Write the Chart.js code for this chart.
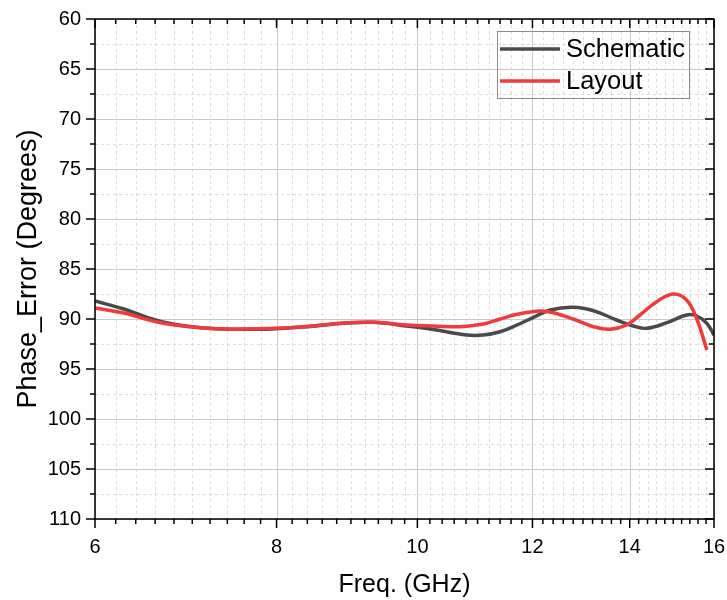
<!DOCTYPE html>
<html>
<head>
<meta charset="utf-8">
<title>Phase Error vs Frequency</title>
<script src="https://cdn.jsdelivr.net/npm/chart.js@4.4.0/dist/chart.umd.min.js"></script>
<style>
  html, body { margin: 0; padding: 0; background: #fff; }
  #wrap { width: 727px; height: 600px; }
</style>
</head>
<body>
<div id="wrap"><canvas id="phaseChart" width="727" height="600"></canvas></div>
<script>
// values (GHz, degrees)
const freqSchematic = [6.0, 6.28, 6.62, 6.97, 7.35, 7.75, 8.0, 8.39, 8.85, 9.33, 9.83, 10.26, 10.81, 11.1, 11.4, 11.71, 12.02, 12.34, 12.8, 13.22, 13.71, 14.08, 14.38, 14.85, 15.32, 15.57, 15.82, 16.0];
const phaseSchematic = [88.2, 89.0, 90.15, 90.75, 91.0, 91.03, 90.97, 90.77, 90.45, 90.33, 90.7, 91.05, 91.6, 91.6, 91.27, 90.6, 89.83, 89.1, 88.83, 89.17, 90.1, 90.7, 90.93, 90.37, 89.6, 89.7, 90.43, 91.6];

const freqLayout = [6.0, 6.28, 6.62, 6.97, 7.35, 7.75, 8.0, 8.39, 8.85, 9.33, 9.83, 10.26, 10.7, 11.1, 11.4, 11.71, 12.15, 12.41, 12.8, 13.22, 13.57, 13.93, 14.23, 14.61, 15.0, 15.32, 15.57, 15.82];
const phaseLayout = [88.9, 89.4, 90.3, 90.77, 91.0, 90.98, 90.93, 90.75, 90.42, 90.33, 90.6, 90.7, 90.77, 90.5, 90.0, 89.53, 89.2, 89.37, 90.0, 90.77, 91.03, 90.6, 89.6, 88.27, 87.5, 88.1, 90.0, 93.1];

const seriesLabels = ["Schematic", "Layout"];
const xTickValues = [6, 8, 10, 12, 14, 16];
const yTickValues = [60, 65, 70, 75, 80, 85, 90, 95, 100, 105, 110];

const FONT = "'Liberation Sans', Arial, sans-serif";

// minor ticks: 0.2 GHz on x, half steps on y
const xMinor = [];
for (let i = 0; i < xTickValues.length - 1; i++) {
  for (let k = 1; k < 10; k++) xMinor.push(xTickValues[i] + k * 0.2);
}
const yMinor = [];
for (let i = 0; i < yTickValues.length - 1; i++) {
  yMinor.push((yTickValues[i] + yTickValues[i + 1]) / 2);
}

function toPoints(xs, ys) {
  return xs.map((x, i) => ({ x: x, y: ys[i] }));
}

function seg(ctx, x1, y1, x2, y2) {
  ctx.beginPath();
  ctx.moveTo(x1, y1);
  ctx.lineTo(x2, y2);
  ctx.stroke();
}

const frameGrid = {
  id: "frameGrid",
  beforeDatasetsDraw(chart) {
    const { ctx, chartArea: a, scales } = chart;
    const x = scales.x, y = scales.y;
    ctx.save();
    ctx.lineWidth = 1;
    ctx.strokeStyle = "#dcdcdc";
    ctx.setLineDash([3, 3]);
    xMinor.forEach((v) => {
      const px = Math.round(x.getPixelForValue(v)) + 0.5;
      seg(ctx, px, a.top, px, a.bottom);
    });
    yMinor.forEach((v) => {
      const py = Math.round(y.getPixelForValue(v)) + 0.5;
      seg(ctx, a.left, py, a.right, py);
    });
    ctx.setLineDash([]);
    ctx.strokeStyle = "#cbcbcb";
    xTickValues.forEach((v) => {
      const px = Math.round(x.getPixelForValue(v)) + 0.5;
      seg(ctx, px, a.top, px, a.bottom);
    });
    yTickValues.forEach((v) => {
      const py = Math.round(y.getPixelForValue(v)) + 0.5;
      seg(ctx, a.left, py, a.right, py);
    });
    ctx.restore();
  },
  afterDatasetsDraw(chart) {
    const { ctx, chartArea: a, scales } = chart;
    const x = scales.x, y = scales.y;
    ctx.save();
    ctx.strokeStyle = "#000";
    ctx.lineWidth = 1.5;
    ctx.strokeRect(a.left, a.top, a.right - a.left, a.bottom - a.top);
    // bottom (out) and top (in)
    xTickValues.forEach((v) => {
      const px = x.getPixelForValue(v);
      seg(ctx, px, a.bottom, px, a.bottom + 9);
      seg(ctx, px, a.top, px, a.top + 9);
    });
    xMinor.forEach((v) => {
      const px = x.getPixelForValue(v);
      seg(ctx, px, a.bottom, px, a.bottom + 5);
      seg(ctx, px, a.top, px, a.top + 5);
    });
    // left (out) and right (in)
    yTickValues.forEach((v) => {
      const py = y.getPixelForValue(v);
      seg(ctx, a.left - 9, py, a.left, py);
      seg(ctx, a.right - 9, py, a.right, py);
    });
    yMinor.forEach((v) => {
      const py = y.getPixelForValue(v);
      seg(ctx, a.left - 5, py, a.left, py);
      seg(ctx, a.right - 5, py, a.right, py);
    });
    ctx.restore();
  },
  afterDraw(chart) {
    // legend box in the top-right corner of the plot
    const { ctx, chartArea: a } = chart;
    const boxW = 192, boxH = 67;
    const bx = a.right - 25 - boxW, by = a.top + 12;
    ctx.save();
    ctx.strokeStyle = "#8c8c8c";
    ctx.lineWidth = 1;
    ctx.strokeRect(bx + 0.5, by + 0.5, boxW, boxH);
    ctx.font = "25.5px " + FONT;
    ctx.textBaseline = "middle";
    ctx.fillStyle = "#000";
    chart.data.datasets.forEach((ds, i) => {
      const ly = by + 18 + i * 32;
      ctx.strokeStyle = ds.borderColor;
      ctx.lineWidth = 3.5;
      seg(ctx, bx + 3, ly, bx + 63, ly);
      ctx.fillText(ds.label, bx + 69, ly + 1);
    });
    ctx.restore();
  }
};

const ctx = document.getElementById("phaseChart").getContext("2d");

new Chart(ctx, {
  type: "line",
  data: {
    datasets: [
      {
        label: seriesLabels[0],
        data: toPoints(freqSchematic, phaseSchematic),
        borderColor: "#4a4a4a",
        borderWidth: 3.5,
        pointRadius: 0,
        tension: 0.4,
        order: 2,
      },
      {
        label: seriesLabels[1],
        data: toPoints(freqLayout, phaseLayout),
        borderColor: "#f23a3a",
        borderWidth: 3.5,
        pointRadius: 0,
        tension: 0.4,
        order: 1,
      },
    ],
  },
  options: {
    responsive: false,
    animation: false,
    layout: { padding: { top: 19, right: 13, left: 0, bottom: 0 } },
    plugins: {
      legend: { display: false },
      tooltip: { enabled: false },
    },
    scales: {
      x: {
        type: "logarithmic",
        min: 6,
        max: 16,
        grid: { display: false, drawTicks: false },
        border: { display: false },
        afterBuildTicks: (scale) => {
          scale.ticks = xTickValues.map((v) => ({ value: v }));
        },
        afterFit: (scale) => {
          scale.height = 81;
          scale.paddingLeft = 0;
          scale.paddingRight = 0;
        },
        ticks: {
          autoSkip: false,
          maxRotation: 0,
          padding: 16,
          color: "#000",
          font: { size: 20, family: FONT },
          callback: (v) => String(v),
        },
        title: {
          display: true,
          text: "Freq. (GHz)",
          color: "#000",
          font: { size: 25, family: FONT },
          padding: { top: 5, bottom: 0 },
        },
      },
      y: {
        type: "linear",
        reverse: true,
        min: 60,
        max: 110,
        grid: { display: false, drawTicks: false },
        border: { display: false },
        afterBuildTicks: (scale) => {
          scale.ticks = yTickValues.map((v) => ({ value: v }));
        },
        afterFit: (scale) => {
          scale.width = 95;
          scale.paddingTop = 0;
          scale.paddingBottom = 0;
        },
        ticks: {
          padding: 14,
          color: "#000",
          font: { size: 20, family: FONT },
        },
        title: {
          display: true,
          text: "Phase_Error (Degrees)",
          color: "#000",
          font: { size: 27, family: FONT },
          padding: { top: 12, bottom: 0 },
        },
      },
    },
  },
  plugins: [frameGrid],
});
</script>
</body>
</html>
